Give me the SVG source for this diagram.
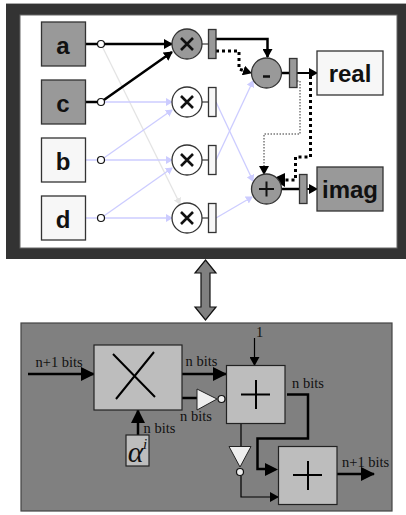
<svg xmlns="http://www.w3.org/2000/svg" width="406" height="515" viewBox="0 0 406 515">
<style>
text{font-family:"Liberation Sans",Arial,sans-serif;font-weight:bold;text-anchor:middle;fill:#111}
.lbl{font-family:"Liberation Serif","Times New Roman",serif;font-weight:normal;font-size:14.5px;fill:#111;text-anchor:start}
.greek{font-family:"Liberation Serif","Times New Roman",serif;font-style:italic;font-weight:normal}
.box{stroke:#333;stroke-width:1.3}
.g{fill:#999}.w{fill:#f7f7f7}
.lilac{stroke:#ccf;stroke-width:1.3;fill:none}
.grey{stroke:#e4e4e4;stroke-width:1.3;fill:none}
.k{stroke:#000;fill:none}
.c{fill:#fff;stroke:#111;stroke-width:1.2}
.big{font-size:24px}
.x{stroke:#111;stroke-width:2.6;fill:none}
.bl{stroke:#222;fill:#bdbdbd;stroke-width:1.2}
.sym{stroke:#000;stroke-width:2;fill:none}
</style>
<defs>
<marker id="ak" markerUnits="userSpaceOnUse" markerWidth="10" markerHeight="10" refX="8" refY="5" orient="auto"><path d="M0 0L9 5L0 10Z" fill="#000"/></marker>
<marker id="al" markerUnits="userSpaceOnUse" markerWidth="7" markerHeight="8" refX="6" refY="4" orient="auto"><path d="M0 0L7 4L0 8Z" fill="#ccf"/></marker>
<marker id="ag" markerUnits="userSpaceOnUse" markerWidth="7" markerHeight="8" refX="6" refY="4" orient="auto"><path d="M0 0L7 4L0 8Z" fill="#e4e4e4"/></marker>
<marker id="abig" markerUnits="userSpaceOnUse" markerWidth="14" markerHeight="14" refX="13" refY="7" orient="auto"><path d="M0 0L14 7L0 14Z" fill="#000"/></marker>
</defs>
<rect x="6" y="4" width="400" height="255" fill="#333"/>
<rect x="6" y="3" width="400" height="1" fill="#aaa"/>
<rect x="20" y="15" width="377" height="233" fill="#fff" stroke="#666" stroke-width="1"/>
<g id="connectors">
<path class="grey" marker-end="url(#ag)" d="M101 44L180 204"/>
<path class="lilac" marker-end="url(#al)" d="M101 102H172"/>
<path class="lilac" marker-end="url(#al)" d="M101 160L172 110"/>
<path class="lilac" marker-end="url(#al)" d="M85 160H172"/>
<path class="lilac" marker-end="url(#al)" d="M101 218L172 168"/>
<path class="lilac" marker-end="url(#al)" d="M85 218H172"/>
<path class="lilac" marker-end="url(#al)" d="M216 102L253 181"/>
<path class="lilac" marker-end="url(#al)" d="M216 160L253 81"/>
<path class="lilac" marker-end="url(#al)" d="M216 218L252 197"/>
<path class="k" stroke-width="2.5" marker-end="url(#ak)" d="M85 44H172"/>
<path class="k" stroke-width="2.5" marker-end="url(#ak)" d="M85 102H101L172 52"/>
<path class="k" stroke-width="2.5" marker-end="url(#ak)" d="M216 39H267.500V57"/>
<path class="k" stroke-width="3" stroke-dasharray="3 3" marker-end="url(#ak)" d="M216 51H239V69L251 73"/>
<path class="k" stroke-width="2.5" d="M282 73H290"/>
<path class="k" stroke-width="2" marker-end="url(#ak)" d="M297 73H317"/>
<path class="k" stroke-width="0.8" stroke-dasharray="1.5 1.5" marker-end="url(#ak)" d="M297 81H300V134H264V174"/>
<path class="k" stroke-width="3" stroke-dasharray="3 3" d="M310.500 76V157H295.500V180H283"/>
<path fill="#000" d="M272 179L285 173L285 187Z"/>
<path class="k" stroke-width="2.5" d="M281 189H299"/>
<path class="k" stroke-width="2" marker-end="url(#ak)" d="M306 189H317"/>
<path d="M202 44H208M202 102H208M202 160H208M202 218H208" stroke="#111" stroke-width="1.2"/>
</g>
<g id="node-a"><rect class="box g" x="41.500" y="22" width="44" height="44"/><text class="big" x="63" y="54">a</text></g>
<g id="node-c"><rect class="box g" x="41.500" y="80" width="44" height="44"/><text class="big" x="63" y="112">c</text></g>
<g id="node-b"><rect class="box w" x="41.500" y="138" width="44" height="44"/><text class="big" x="63" y="170">b</text></g>
<g id="node-d"><rect class="box w" x="41.500" y="196" width="44" height="44"/><text class="big" x="63" y="228">d</text></g>
<g id="junctions"><circle class="c" cx="101" cy="44" r="3.500"/><circle class="c" cx="101" cy="102" r="3.500"/><circle class="c" cx="101" cy="160" r="3.500"/><circle class="c" cx="101" cy="218" r="3.500"/></g>
<g id="mul1"><circle class="box g" cx="187" cy="44" r="15"/><path class="x" d="M181 38L193 50M193 38L181 50"/></g>
<g id="mul2"><circle class="box" fill="#fff" cx="187" cy="102" r="15"/><path class="x" d="M181 96L193 108M193 96L181 108"/></g>
<g id="mul3"><circle class="box" fill="#fff" cx="187" cy="160" r="15"/><path class="x" d="M181 154L193 166M193 154L181 166"/></g>
<g id="mul4"><circle class="box" fill="#fff" cx="187" cy="218" r="15"/><path class="x" d="M181 212L193 224M193 212L181 224"/></g>
<g id="reg1"><rect class="box g" x="208.500" y="29.500" width="7.500" height="29"/></g>
<g id="reg2"><rect class="box w" x="208.500" y="87.500" width="7.500" height="29"/></g>
<g id="reg3"><rect class="box w" x="208.500" y="145.500" width="7.500" height="29"/></g>
<g id="reg4"><rect class="box w" x="208.500" y="203.500" width="7.500" height="29"/></g>
<g id="sub"><circle class="box g" cx="266.500" cy="73" r="15"/><path d="M263 76.500H270" stroke="#111" stroke-width="2.500"/></g>
<g id="add"><circle class="box g" cx="266.500" cy="189" r="15"/><path d="M259 189H274M266.500 181.500V196.500" stroke="#111" stroke-width="2"/></g>
<g id="reg5"><rect class="box g" x="289.500" y="58.500" width="7.500" height="29"/></g>
<g id="reg6"><rect class="box g" x="299.500" y="174.500" width="7.500" height="29"/></g>
<g id="real"><rect class="box w" x="317" y="51" width="66" height="44"/><text x="350" y="82" font-size="24">real</text></g>
<g id="imag"><rect class="box g" x="317" y="167" width="66" height="44"/><text x="350" y="198" font-size="24">imag</text></g>
<g id="double-arrow"><path d="M205.500 260L216 273H210V307H216L205.500 320L195 307H201V273H195Z" fill="#808080" stroke="#111" stroke-width="1.2"/></g>
<g id="panel"><rect x="21" y="323" width="371" height="188" fill="#808080" stroke="#444" stroke-width="1.2"/></g>
<g id="lower-connectors">
<path class="k" stroke-width="2.500" marker-end="url(#abig)" d="M28 374H94"/>
<path class="k" stroke-width="2.500" marker-end="url(#abig)" d="M182 374H226"/>
<path class="k" stroke-width="2.500" d="M182 398H197"/>
<path class="k" stroke-width="2.500" marker-end="url(#abig)" d="M138 435V410"/>
<path class="k" stroke-width="1.200" marker-end="url(#ak)" d="M254.500 338V365"/>
<path class="k" stroke-width="2.500" d="M287 394.500H308V438.500H257.500V469H268"/>
<path fill="#000" d="M265 463L278 469.500L265 476Z"/>
<path class="k" stroke-width="1.200" d="M241 423V447"/>
<path class="k" stroke-width="1.200" marker-end="url(#ak)" d="M241 476V497H278"/>
<path class="k" stroke-width="2.500" marker-end="url(#abig)" d="M337 474H374"/>
</g>
<g id="mult-block"><rect class="bl" x="94" y="345" width="88" height="65"/><path class="sym" d="M113 354L155 397M154 352L116 399"/></g>
<g id="add1-block"><rect class="bl" x="226.500" y="365.500" width="58.500" height="58"/><path class="sym" d="M241 394.500H270M256 380V409"/></g>
<g id="add2-block"><rect class="bl" x="278.500" y="446.500" width="58.500" height="58"/><path class="sym" d="M293 475H322M308 461V490"/></g>
<g id="alpha-block"><rect class="bl" x="126" y="435" width="23" height="31"/><text class="greek" x="135.500" y="462" font-size="30">α</text><text class="greek" x="145" y="449" font-size="15">i</text></g>
<g id="inv1"><path d="M197 389L217 399L197 410Z" fill="#eee" stroke="#222"/><circle class="c" cx="221.500" cy="399" r="3.500" style="fill:#eee"/></g>
<g id="inv2"><path d="M229 446.500H251L240 467Z" fill="#eee" stroke="#222"/><circle class="c" cx="240" cy="472" r="3.500" style="fill:#eee"/></g>
<text class="lbl" x="35.500" y="367">n+1 bits</text>
<text class="lbl" x="185.500" y="366">n bits</text>
<text class="lbl" x="180" y="421">n bits</text>
<text class="lbl" x="143.500" y="433">n bits</text>
<text class="lbl" x="256" y="337">1</text>
<text class="lbl" x="292" y="388">n bits</text>
<text class="lbl" x="342" y="467">n+1 bits</text>
</svg>
